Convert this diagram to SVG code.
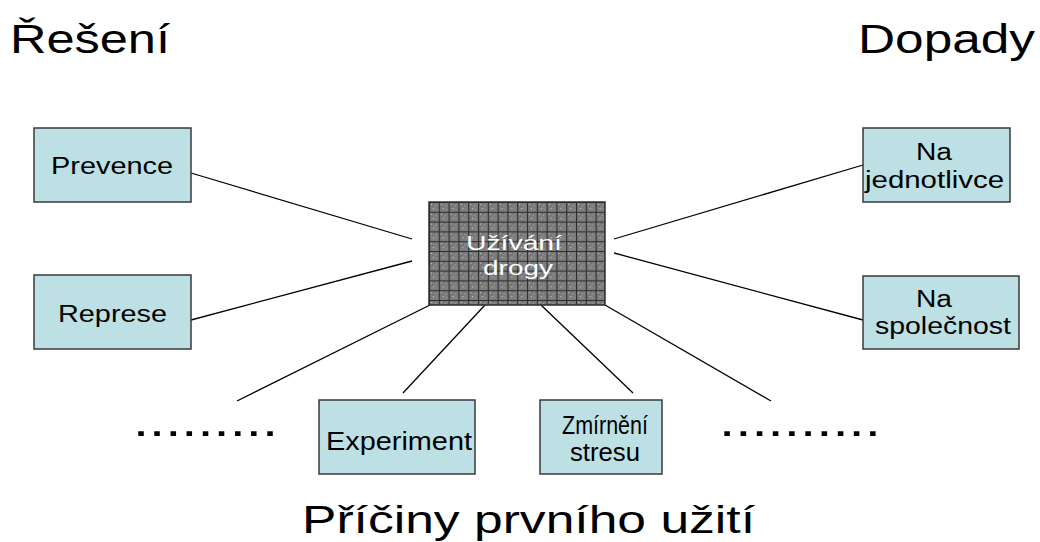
<svg xmlns="http://www.w3.org/2000/svg" width="1040" height="542" viewBox="0 0 1040 542">
<style>
.box{fill:#bce0e3;stroke:#3a3a3a;stroke-width:1.5}
.t{font-family:"Liberation Sans",Arial,sans-serif;fill:#000}
.w{font-family:"Liberation Sans",Arial,sans-serif;fill:#fff}
.c{stroke:#000;stroke-width:1.3;fill:none}
</style>
<defs>
<pattern id="grid" patternUnits="userSpaceOnUse" x="429" y="202" width="9.8" height="9.8">
<rect width="9.8" height="9.8" fill="#7c7c7c"/>
<rect x="2" y="2" width="1" height="1" fill="#cfcfcf"/>
<rect x="6" y="3" width="1" height="1" fill="#a8a8a8"/>
<rect x="4" y="6" width="1" height="1" fill="#dcdcdc"/>
<rect x="7" y="7" width="1" height="1" fill="#999"/>
<rect x="3" y="4" width="1" height="1" fill="#5e5e5e"/>
<rect x="5" y="1.5" width="1" height="1" fill="#606060"/>
<path d="M0 0.5H9.8M0.5 0V9.8" stroke="#2e2e2e" stroke-width="1.2"/>
</pattern>
</defs>
<rect width="1040" height="542" fill="#fff"/>
<text class="t" x="10" y="53" font-size="40" textLength="160" lengthAdjust="spacingAndGlyphs">Řešení</text>
<text class="t" x="858" y="53" font-size="40" textLength="177" lengthAdjust="spacingAndGlyphs">Dopady</text>
<text class="t" x="302" y="533" font-size="39" textLength="453" lengthAdjust="spacingAndGlyphs">Příčiny prvního užití</text>
<text class="t" x="133" y="436" font-size="44" textLength="145" lengthAdjust="spacingAndGlyphs">.........</text>
<text class="t" x="719" y="436" font-size="44" textLength="162" lengthAdjust="spacingAndGlyphs">..........</text>
<g id="connectors">
<line class="c" x1="191" y1="173" x2="412" y2="239"/>
<line class="c" x1="191" y1="320" x2="412" y2="261"/>
<line class="c" x1="614" y1="239" x2="863" y2="165"/>
<line class="c" x1="614" y1="253" x2="863" y2="320"/>
<line class="c" x1="430" y1="305" x2="237" y2="401"/>
<line class="c" x1="485" y1="305" x2="403" y2="393"/>
<line class="c" x1="541" y1="305" x2="633" y2="393"/>
<line class="c" x1="605" y1="305" x2="771" y2="401"/>
</g>
<g id="center">
<rect x="429" y="202" width="176" height="103" fill="url(#grid)" stroke="#2e2e2e" stroke-width="1.5"/>
<text class="w" x="466" y="250" font-size="21" textLength="96" lengthAdjust="spacingAndGlyphs">Užívání</text>
<text class="w" x="483" y="275" font-size="21" textLength="70" lengthAdjust="spacingAndGlyphs">drogy</text>
</g>
<g id="prevence">
<rect class="box" x="34" y="128" width="157" height="74"/>
<text class="t" x="51" y="174" font-size="24" textLength="122" lengthAdjust="spacingAndGlyphs">Prevence</text>
</g>
<g id="represe">
<rect class="box" x="34" y="275" width="157" height="74"/>
<text class="t" x="58" y="322" font-size="24" textLength="109" lengthAdjust="spacingAndGlyphs">Represe</text>
</g>
<g id="jednotlivce">
<rect class="box" x="863" y="128" width="147" height="74"/>
<text class="t" x="916" y="160" font-size="23" textLength="36" lengthAdjust="spacingAndGlyphs">Na</text>
<text class="t" x="865" y="188" font-size="23" textLength="139" lengthAdjust="spacingAndGlyphs">jednotlivce</text>
</g>
<g id="spolecnost">
<rect class="box" x="863" y="276" width="156" height="73"/>
<text class="t" x="916" y="307" font-size="23" textLength="36" lengthAdjust="spacingAndGlyphs">Na</text>
<text class="t" x="875" y="334" font-size="23" textLength="136" lengthAdjust="spacingAndGlyphs">společnost</text>
</g>
<g id="experiment">
<rect class="box" x="319" y="400" width="156" height="74"/>
<text class="t" x="326" y="450" font-size="26" textLength="146" lengthAdjust="spacingAndGlyphs">Experiment</text>
</g>
<g id="zmirneni">
<rect class="box" x="540" y="400" width="122" height="74"/>
<text class="t" x="562" y="434" font-size="25" textLength="86" lengthAdjust="spacingAndGlyphs">Zmírnění</text>
<text class="t" x="570" y="461" font-size="25" textLength="70" lengthAdjust="spacingAndGlyphs">stresu</text>
</g>
</svg>
